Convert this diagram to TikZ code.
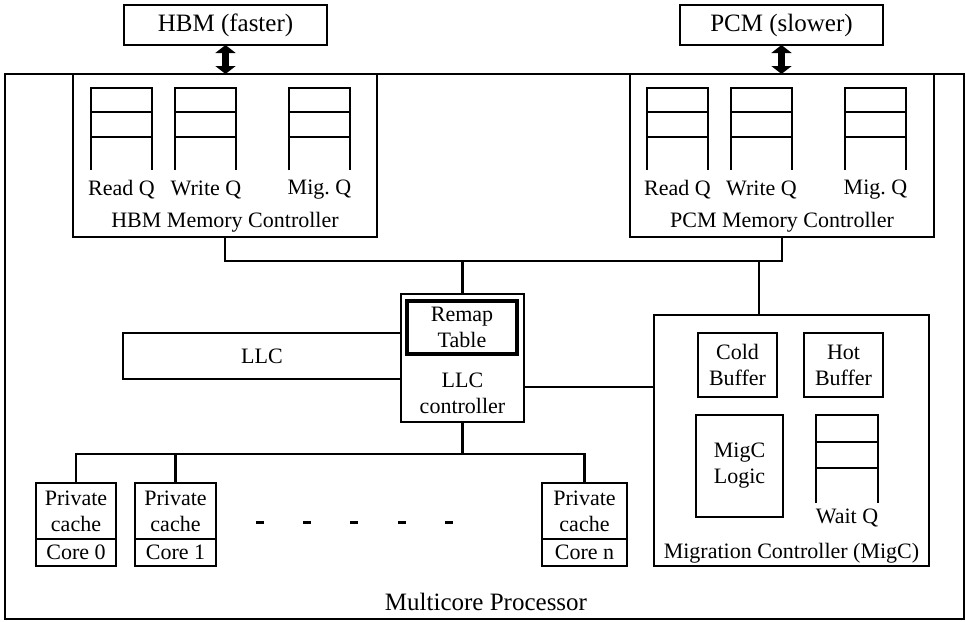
\documentclass[tikz,border=0pt]{standalone}
\usepackage{fontspec}
\setmainfont{Liberation Serif}
\usetikzlibrary{arrows.meta}
\frenchspacing
\tikzset{
  ln/.style={line width=2.8pt},
  box/.style={draw, line width=2.8pt, rectangle, inner sep=0pt, outer sep=0pt, anchor=north west,
    font=\fontsize{22}{26}\selectfont, align=center},
  txt/.style={font=\fontsize{22}{26}\selectfont, inner sep=0pt, align=center},
  bigtxt/.style={font=\fontsize{25}{29}\selectfont},
  dbl/.style={line width=7pt, {Triangle[length=8pt,width=20pt]}-{Triangle[length=8pt,width=20pt]}},
  queue/.pic={
    \draw[ln] (0,82) -- (0,0) -- (61,0) -- (61,82);
    \draw[ln] (0,24) -- (61,24) (0,49) -- (61,49);
  },
  waitqueue/.pic={
    \draw[ln] (0,88) -- (0,0) -- (62,0) -- (62,88);
    \draw[ln] (0,27) -- (62,27) (0,53) -- (62,53);
  },
}
\newcommand\corebox[4]{%
  \node[box, minimum width=#3pt, minimum height=83pt] (#1) at (#2,483) {};
  \draw[ln] (#1.west |- 0,539) -- (#1.east |- 0,539);
  \node[txt] (#1t) at (#1.north |- 0,511) {Private\\cache};
  \node[txt] (#1l) at (#1.north |- 0,552) {#4};
}
\begin{document}
\begin{tikzpicture}[x=1pt,y=-1pt]
\useasboundingbox (0,0) rectangle (966,621);
% outer processor box
\node[box, minimum width=959pt, minimum height=545pt] (outer) at (5,74) {};
\node[txt, bigtxt] (outerl) at (486,602) {Multicore Processor};

% memories
\node[box, bigtxt, minimum width=203pt, minimum height=40pt] (hbm) at (124,5) {HBM (faster)};
\node[box, bigtxt, minimum width=203pt, minimum height=40pt] (pcm) at (680,5) {PCM (slower)};

% memory controllers
\node[box, minimum width=304pt, minimum height=163pt] (hbmmc) at (73,74) {};
\node[box, minimum width=304pt, minimum height=163pt] (pcmmc) at (630,74) {};
\draw[dbl] (hbm.south) -- (hbm.south |- outer.north);
\draw[dbl] (pcm.south) -- (pcm.south |- outer.north);

\pic at (91,88) {queue};
\pic at (175,88) {queue};
\pic at (289,88) {queue};
\node[txt] (hrq) at (121.5,190) {Read Q};
\node[txt] (hwq) at (206,190) {Write Q};
\node[txt] (hmq) at (319.5,190) {Mig.\ Q};
\node[txt] (hbmmcl) at (225,222) {HBM Memory Controller};

\pic at (647,88) {queue};
\pic at (731,88) {queue};
\pic at (845,88) {queue};
\node[txt] (prq) at (677.5,190) {Read Q};
\node[txt] (pwq) at (761.5,190) {Write Q};
\node[txt] (pmq) at (875.5,190) {Mig.\ Q};
\node[txt] (pcmmcl) at (782,222) {PCM Memory Controller};

% LLC and controller
\node[box, minimum width=123pt, minimum height=128pt] (llcc) at (401,294) {};
\node[box, line width=3.6pt, minimum width=110pt, minimum height=53pt] (remap) at (407,301) {Remap\\Table};
\node[txt] (llccl) at (462.5,393) {LLC\\controller};
\node[box, minimum width=278pt, minimum height=46pt] (llc) at (123,333) {LLC};

% migration controller
\node[box, minimum width=275pt, minimum height=251pt] (migc) at (654,315) {};
\node[txt] (migcl) at (791.5,553) {Migration Controller (MigC)};
\node[box, minimum width=79pt, minimum height=64pt] (cold) at (698,333) {Cold\\Buffer};
\node[box, minimum width=79pt, minimum height=64pt] (hot) at (804,333) {Hot\\Buffer};
\node[box, minimum width=87pt, minimum height=102pt] (logic) at (696,415) {MigC\\Logic};
\pic at (816,415) {waitqueue};
\node[txt] (waitl) at (847,518) {Wait Q};

% cores
\corebox{core0}{36}{80}{Core 0}
\corebox{core1}{135}{81}{Core 1}
\corebox{coren}{542}{85}{Core n}
\foreach \x in {260,307,354,402,449} \draw[line width=3pt] (\x-4,522) -- (\x+4,522);

% connectors
\coordinate (busR) at (782,261);
\coordinate (migtop) at (759,315);
\coordinate (migin) at (654,387);
\coordinate (cbus) at (462.5,454);
\draw[ln] (hbmmc.south) |- (busR) -- (pcmmc.south);
\draw[ln] (llcc.north) -- (llcc.north |- busR);
\draw[ln] (migtop) -- (migtop |- busR);
\draw[ln] (migin) -- (migin -| llcc.east);
\draw[ln] (llcc.south) -- (cbus);
\draw[ln] (core0.north) |- (cbus) -| (coren.north);
\draw[ln] (core1.north) -- (core1.north |- cbus);
\end{tikzpicture}
\end{document}
